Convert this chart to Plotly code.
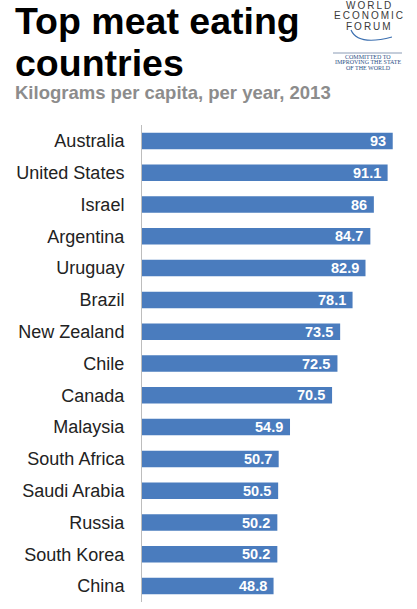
import plotly.graph_objects as go

countries = ["Australia", "United States", "Israel", "Argentina", "Uruguay", "Brazil",
             "New Zealand", "Chile", "Canada", "Malaysia", "South Africa", "Saudi Arabia",
             "Russia", "South Korea", "China"]
values = [93, 91.1, 86, 84.7, 82.9, 78.1, 73.5, 72.5, 70.5, 54.9, 50.7, 50.5, 50.2, 50.2, 48.8]
value_labels = [f"{v:g}" for v in values]

title_lines = ["Top meat eating", "countries"]
subtitle = "Kilograms per capita, per year, 2013"

W, H = 417, 609
ML, MR, MT, MB = 142, 10, 125, 7
PW, PH = W - ML - MR, H - MT - MB
BAR = "#4a7cbe"
FONT = "Liberation Sans, Arial, sans-serif"


def px(x):
    return (x - ML) / PW


def py(y):
    return (H - MB - y) / PH


fig = go.Figure(go.Bar(
    x=values, y=countries, orientation="h",
    marker=dict(color=BAR, line=dict(width=0)),
    hoverinfo="skip",
))

annotations = []
for c, v, t in zip(countries, values, value_labels):
    annotations.append(dict(x=v, y=c, xref="x", yref="y", text=f"<b>{t}</b>",
                            showarrow=False, xanchor="right", yanchor="middle",
                            xshift=-5, font=dict(family=FONT, size=14.5, color="white")))

# title and subtitle
annotations.append(dict(x=px(13), y=py(21), xref="paper", yref="paper", text=f"<b>{title_lines[0]}</b>",
                        showarrow=False, xanchor="left", yanchor="middle",
                        font=dict(family=FONT, size=37.5, color="#000000")))
annotations.append(dict(x=px(13), y=py(63), xref="paper", yref="paper", text=f"<b>{title_lines[1]}</b>",
                        showarrow=False, xanchor="left", yanchor="middle",
                        font=dict(family=FONT, size=37.5, color="#000000")))
annotations.append(dict(x=px(13), y=py(93), xref="paper", yref="paper", text=f"<b>{subtitle}</b>",
                        showarrow=False, xanchor="left", yanchor="middle",
                        font=dict(family=FONT, size=18.5, color="#8c8c8c")))

# logo text
sp = "\u2009"
for word, yy in [("WORLD", 6), ("ECONOMIC", 16), ("FORUM", 26)]:
    annotations.append(dict(x=px(368), y=py(yy), xref="paper", yref="paper", text=sp.join(word),
                            showarrow=False, xanchor="center", yanchor="middle",
                            font=dict(family=FONT, size=10, color="#3a3a3a")))
for line, yy in [("COMMITTED TO", 57), ("IMPROVING THE STATE", 62.5), ("OF THE WORLD", 68)]:
    annotations.append(dict(x=px(368), y=py(yy), xref="paper", yref="paper", text=line,
                            showarrow=False, xanchor="center", yanchor="middle",
                            font=dict(family="Liberation Serif, serif", size=6, color="#2c4f86")))

shapes = [
    dict(type="path", xref="paper", yref="paper",
         path=f"M {px(351)} {py(30)} Q {px(358)} {py(46)} {px(392)} {py(37)}",
         line=dict(color="#3b6fb0", width=1.2)),
    dict(type="line", xref="paper", yref="paper", x0=px(333), x1=px(402), y0=py(53), y1=py(53),
         line=dict(color="#8a9bb5", width=1)),
]

fig.update_layout(
    width=W, height=H,
    margin=dict(l=ML, r=MR, t=MT, b=MB, pad=0),
    paper_bgcolor="white", plot_bgcolor="white",
    bargap=0.48,
    showlegend=False,
    annotations=annotations,
    shapes=shapes,
    xaxis=dict(range=[0, PW / 2.696], visible=False, fixedrange=True),
    yaxis=dict(categoryorder="array", categoryarray=countries, autorange="reversed",
               showline=True, linecolor="#bdbdbd", linewidth=1, showgrid=False, ticks="",
               ticklabelstandoff=13,
               tickfont=dict(family=FONT, size=18, color="#222222"), fixedrange=True),
)

fig.write_html("out.html")
